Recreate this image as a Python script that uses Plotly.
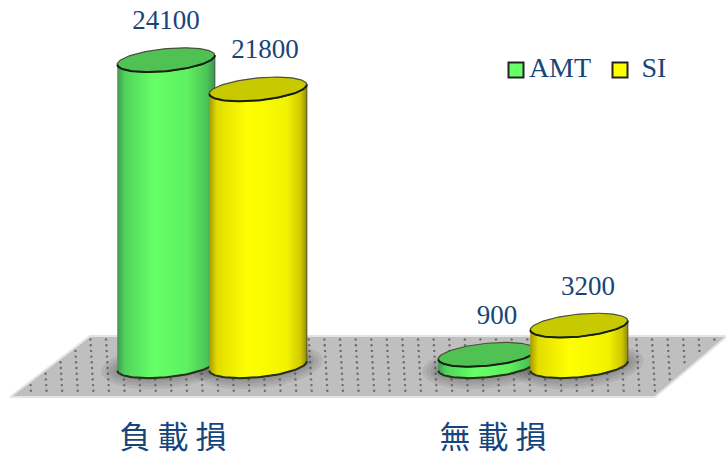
import numpy as np
import plotly.graph_objects as go

categories = ["負 載 損", "無 載 損"]
series_names = ["AMT", "SI"]
amt_values = [24100, 900]
si_values = [21800, 3200]

W, H = 726, 456
PLOT_H = 406
BASE_PX = 366.0
SCALE = 0.0127
CAT_CENTER = [212, 533]
CAT_LABEL_X = [173, 493]
OFFSET = 46
LABEL_DX = {"AMT": [0, 10], "SI": [7, 9]}
LEGEND_MARK_X = [516, 620]
LEGEND_TEXT_X = [560, 654]
LEGEND_Y = 70
A, B, TILT = 49.0, 11.2, np.radians(5.6)
INK = "#17457a"

def v(py):
    return (BASE_PX - np.asarray(py, dtype=float)) / SCALE

def ell(cx, cy_val, t, a=A, b=B):
    x = cx + a * np.cos(t) * np.cos(TILT) - b * np.sin(t) * np.sin(TILT)
    y = cy_val + (a * np.cos(t) * np.sin(TILT) + b * np.sin(t) * np.cos(TILT)) / SCALE
    return x, y

fig = go.Figure()

# floor
fig.add_trace(go.Scatter(x=[10, 90, 726, 726, 655, 10], y=v([397, 336, 336, 337, 397, 397]), mode="lines",
    fill="toself", fillcolor="#bfbfbf", line=dict(color="#e4e4e4", width=2), hoverinfo="skip", showlegend=False))
dx, dy = [], []
for r, py in enumerate(np.arange(339.5, 395, 5.7)):
    left = 90 - (py - 336) * 80 / 61 + 5
    right = 726 - (py - 336) * 71 / 61 - 4
    xs = np.arange(left + (r % 2) * 7.8 % 15.6, right, 15.6)
    dx.extend(xs)
    dy.extend([py] * len(xs))
fig.add_trace(go.Scatter(x=dx, y=v(dy), mode="markers",
    marker=dict(size=2.4, color="#4a4a4a", opacity=0.7), hoverinfo="skip", showlegend=False))

def shadow(cx):
    t = np.linspace(0, 2 * np.pi, 90)
    for k in (16, 12, 8, 4):
        x, y = ell(cx, 0, t, A + k, B + k * 0.7)
        fig.add_trace(go.Scatter(x=x, y=y, mode="lines", fill="toself", fillcolor="rgba(60,60,60,0.09)",
            line=dict(width=0), hoverinfo="skip", showlegend=False))

def cylinder(cx, value, scale, top, edge):
    t_low = np.linspace(np.pi, 2 * np.pi, 60)
    bx, by = ell(cx, 0, t_low)
    tx, ty = ell(cx, value, t_low[::-1])
    fig.add_trace(go.Scatter(x=np.r_[bx, tx], y=np.r_[by, ty], mode="lines", fill="toself",
        fillgradient=dict(type="horizontal", colorscale=scale), line=dict(color=edge, width=1.2),
        hoverinfo="skip", showlegend=False))
    fig.add_trace(go.Scatter(x=bx, y=by, mode="lines", line=dict(color="#26301a", width=2),
        hoverinfo="skip", showlegend=False))
    t = np.linspace(0, 2 * np.pi, 120)
    ex, ey = ell(cx, value, t)
    fig.add_trace(go.Scatter(x=ex, y=ey, mode="lines", fill="toself", fillcolor=top,
        line=dict(color="#4a4f3a", width=1.2), hoverinfo="skip", showlegend=False))
    fx, fy = ell(cx, value, t_low)
    fig.add_trace(go.Scatter(x=fx, y=fy, mode="lines", line=dict(color="#15200f", width=2),
        hoverinfo="skip", showlegend=False))

green = [[0, "#3f9a50"], [0.08, "#50d45c"], [0.38, "#66ff66"], [0.72, "#5ff060"], [0.92, "#4cc457"], [1, "#3e9450"]]
yellow = [[0, "#a89a00"], [0.08, "#e2dc00"], [0.4, "#ffff00"], [0.8, "#f2f200"], [0.94, "#cfc800"], [1, "#8e8a10"]]

for c in CAT_CENTER:
    shadow(c - OFFSET)
    shadow(c + OFFSET)
for i, c in enumerate(CAT_CENTER):
    cylinder(c - OFFSET, amt_values[i], green, "#50c253", "#3b6b45")
    cylinder(c + OFFSET, si_values[i], yellow, "#c9c900", "#66631a")

for name, vals, sign in (("AMT", amt_values, -1), ("SI", si_values, 1)):
    fig.add_trace(go.Scatter(
        x=[c + sign * OFFSET + d for c, d in zip(CAT_CENTER, LABEL_DX[name])],
        y=[val + 24 / SCALE for val in vals], mode="text", text=[str(val) for val in vals],
        textposition="top center", textfont=dict(family="Liberation Serif", size=27, color=INK),
        hoverinfo="skip", showlegend=False))

# key, placed inside the plot
for name, col, mx, tx in zip(series_names, ["#66ff66", "#ffff00"], LEGEND_MARK_X, LEGEND_TEXT_X):
    fig.add_trace(go.Scatter(x=[mx], y=[v(LEGEND_Y)], mode="markers", name=name, hoverinfo="skip", showlegend=False,
        marker=dict(symbol="square", size=15, color=col, line=dict(color="#222222", width=2))))
    fig.add_trace(go.Scatter(x=[tx], y=[v(LEGEND_Y)], mode="text", text=[name], textposition="middle center",
        textfont=dict(family="Liberation Serif", size=28, color=INK), hoverinfo="skip", showlegend=False))

fig.update_layout(
    width=W, height=H, margin=dict(l=0, r=0, t=0, b=H - PLOT_H), paper_bgcolor="white", plot_bgcolor="white",
    xaxis=dict(range=[0, W], automargin=False, showgrid=False, zeroline=False, showline=False, ticks="",
        tickmode="array", tickvals=CAT_LABEL_X, ticktext=categories, ticklabelstandoff=10,
        tickfont=dict(family="Noto Sans CJK TC", size=31, color=INK), fixedrange=True),
    yaxis=dict(range=[v(PLOT_H), v(0)], visible=False, fixedrange=True, automargin=False),
    showlegend=False,
)
fig.write_html("out.html", config={"displayModeBar": False},
    post_script="document.body.style.margin='0';document.documentElement.style.overflow='hidden';document.body.style.overflow='hidden';")
